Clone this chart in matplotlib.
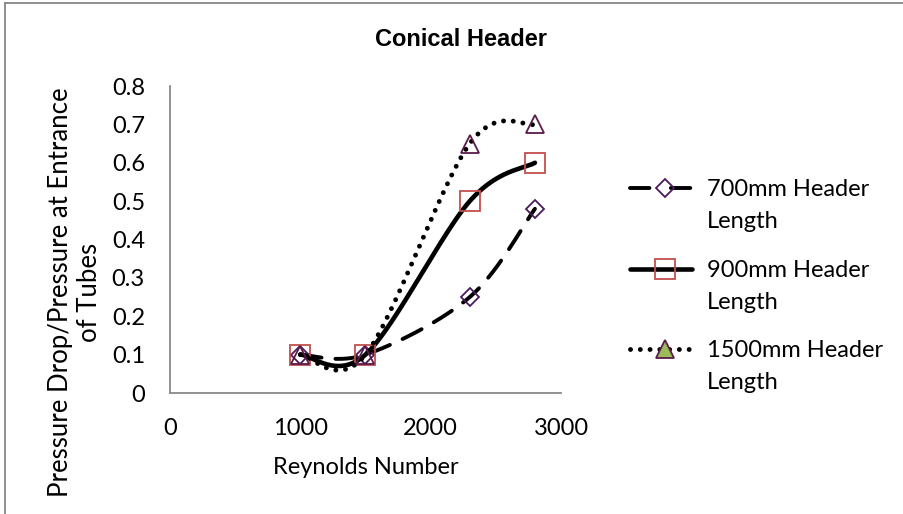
import numpy as np
import matplotlib
matplotlib.use('Agg')
import matplotlib.pyplot as plt
from matplotlib.lines import Line2D

# Data
reynolds = [1000, 1500, 2300, 2800]
drop_700 = [0.1, 0.1, 0.25, 0.48]
drop_900 = [0.1, 0.1, 0.5, 0.6]
drop_1500 = [0.1, 0.1, 0.65, 0.7]
series_labels = ['700mm Header\nLength', '900mm Header\nLength', '1500mm Header\nLength']
x_ticks = [0, 1000, 2000, 3000]
y_ticks = [0, 0.1, 0.2, 0.3, 0.4, 0.5, 0.6, 0.7, 0.8]
y_tick_labels = ['0', '0.1', '0.2', '0.3', '0.4', '0.5', '0.6', '0.7', '0.8']

plt.rcParams['font.family'] = ['Lato', 'DejaVu Sans']
FS = 17
W, H = 904, 514


# Spreadsheet-style smoothed line: cubic Bezier through the points
def smooth(xs, ys, n=80):
    pts = np.column_stack([xs, ys]).astype(float)
    p = np.vstack([pts[0], pts, pts[-1]])
    out = []
    t = np.linspace(0, 1, n)[:, None]
    for i in range(len(pts) - 1):
        p0, p1, p2, p3 = p[i], p[i + 1], p[i + 2], p[i + 3]
        c1 = p1 + (p2 - p0) / 6.0
        c2 = p2 - (p3 - p1) / 6.0
        seg = (1 - t)**3 * p1 + 3 * (1 - t)**2 * t * c1 + 3 * (1 - t) * t**2 * c2 + t**3 * p2
        out.append(seg if i == 0 else seg[1:])
    return np.vstack(out)


fig = plt.figure(figsize=(W / 100, H / 100), dpi=100)
ax = fig.add_axes([170 / W, 121 / H, 391 / W, 307 / H])

styles = [
    dict(lw=2.8, dashes=(5.5, 3.6), dash_capstyle='round'),
    dict(lw=3.3, solid_capstyle='round'),
    dict(lw=3.5, dashes=(0.01, 2.0), dash_capstyle='round'),
]
markers = [
    dict(marker='D', ms=9, mec='#4a1a5a', mfc='none', mew=1.3),
    dict(marker='s', ms=14, mec='#c0504d', mfc='none', mew=1.3),
    dict(marker='^', ms=13.5, mec='#5a1a4a', mfc='none', mew=1.3),
]

for ys, st, mk in zip([drop_700, drop_900, drop_1500], styles, markers):
    curve = smooth(reynolds, ys)
    ax.plot(curve[:, 0], curve[:, 1], color='black', **st)
    ax.plot(reynolds, ys, ls='none', **mk)

ax.set_xlim(0, 3000)
ax.set_ylim(0, 0.8)
ax.set_xticks(x_ticks)
ax.set_xticklabels([str(v) for v in x_ticks])
ax.set_yticks(y_ticks)
ax.set_yticklabels(y_tick_labels)
ax.tick_params(length=0, labelsize=FS)
ax.tick_params(axis='x', pad=18)
ax.tick_params(axis='y', pad=18)
for s in ['top', 'right']:
    ax.spines[s].set_visible(False)
for s in ['left', 'bottom']:
    ax.spines[s].set_color('#898989')
    ax.spines[s].set_linewidth(1.3)

ax.set_xlabel('Reynolds Number', fontsize=FS, labelpad=13)
fig.text(75 / W, 1 - 292 / H, 'Pressure Drop/Pressure at Entrance\nof Tubes',
         rotation=90, ha='center', va='center', fontsize=18.5, multialignment='center',
         linespacing=1.2)

fig.text(461 / W, 1 - 40 / H, 'Conical Header', ha='center', va='center',
         fontsize=17, fontweight='bold', family=['Liberation Sans', 'DejaVu Sans'])

# legend: handle sits on the first line of each two-line label
legend_rows = [188, 269, 349]
handle_dashes = [(5.0, 5.5), None, (0.01, 2.0)]
for row, label, st, mk, hd in zip(legend_rows, series_labels, styles, markers, handle_dashes):
    hst = dict(st)
    if hd is not None:
        hst['dashes'] = hd
    hmk = dict(mk)
    if mk['marker'] == '^':
        hmk['mfc'] = '#9bbb59'
    y = 1 - row / H
    fig.add_artist(Line2D([630 / W, 665 / W, 692 / W], [y, y, y], color='black',
                          markevery=[1], **hst, **hmk))
    fig.text(707 / W, 1 - (row - 9) / H, label, ha='left', va='top', fontsize=FS,
             linespacing=1.66)

# outer frame of the chart area
fig.add_artist(Line2D([5 / W, 5 / W], [0, 1 - 3 / H], color='#868686', lw=1.3))
fig.add_artist(Line2D([5 / W, 1], [1 - 3 / H, 1 - 3 / H], color='#868686', lw=1.3))

fig.savefig('out.png', dpi=100)
